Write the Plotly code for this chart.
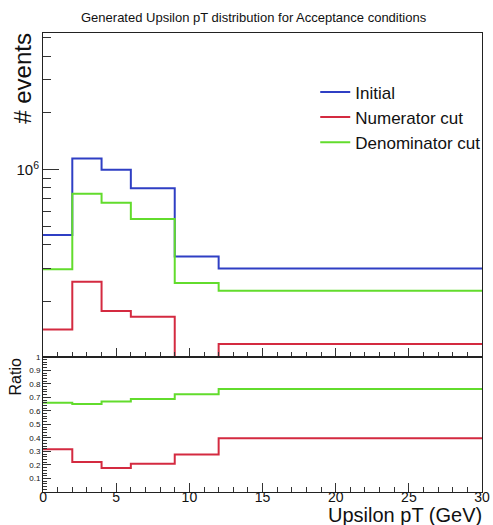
import plotly.graph_objects as go

# ---- data ----
bin_edges = [0, 2, 4, 6, 9, 12, 30]
initial = [4.50e5, 1.146e6, 1.00e6, 7.97e5, 3.47e5, 2.99e5]
numerator = [1.42e5, 2.55e5, 1.78e5, 1.66e5, 9.6e4, 1.19e5]
denominator = [2.97e5, 7.45e5, 6.69e5, 5.48e5, 2.51e5, 2.28e5]
series_names = ["Initial", "Numerator cut", "Denominator cut"]
x_tick_vals = [0, 5, 10, 15, 20, 25, 30]
ratio_tick_vals = [0.1, 0.2, 0.3, 0.4, 0.5, 0.6, 0.7, 0.8, 0.9, 1.0]
ratio_tick_text = ["0.1", "0.2", "0.3", "0.4", "0.5", "0.6", "0.7", "0.8", "0.9", "1"]

ratio_num = [n / i for n, i in zip(numerator, initial)]
ratio_den = [d / i for d, i in zip(denominator, initial)]

W, H = 493, 525
FONT = "Liberation Sans, Arial, Helvetica, sans-serif"
colors = {"Initial": "#2f3fc4", "Numerator cut": "#d42a40", "Denominator cut": "#62dc2c"}


def px(xp):
    return xp / W


def py(yp):
    return 1 - yp / H


def step(vals):
    return list(vals) + [vals[-1]]


fig = go.Figure()
for name, vals in zip(series_names, [initial, numerator, denominator]):
    fig.add_trace(go.Scatter(
        x=bin_edges, y=step(vals), mode="lines", line_shape="hv",
        line=dict(color=colors[name], width=2), name=name,
        legendgroup=name, xaxis="x", yaxis="y", showlegend=True,
    ))
for name, vals in [("Denominator cut", ratio_den), ("Numerator cut", ratio_num)]:
    fig.add_trace(go.Scatter(
        x=bin_edges, y=step(vals), mode="lines", line_shape="hv",
        line=dict(color=colors[name], width=2), name=name,
        xaxis="x2", yaxis="y2", showlegend=False,
    ))
# invisible carrier trace for the tick-label axis
fig.add_trace(go.Scatter(x=bin_edges, y=step(ratio_den), mode="lines", opacity=0,
                         line=dict(width=0), xaxis="x3", yaxis="y2",
                         showlegend=False, hoverinfo="skip"))

xdom = [px(40), px(490)]
top_dom = [py(355.5), py(29)]
bot_dom = [py(491.7), py(355.5)]
axcommon = dict(showline=True, linecolor="#222", linewidth=1, mirror=True,
                showgrid=False, zeroline=False, ticks="inside", tickcolor="#333")

fig.update_layout(
    width=W, height=H, autosize=False,
    margin=dict(l=0, r=0, t=0, b=0),
    paper_bgcolor="white", plot_bgcolor="white",
    font=dict(family=FONT, color="#111"),
    xaxis=dict(domain=xdom, range=[0, 30], anchor="y", showticklabels=False,
               tickvals=x_tick_vals, ticklen=9,
               minor=dict(dtick=1, ticks="inside", ticklen=5, tickcolor="#333"),
               **axcommon),
    yaxis=dict(domain=top_dom, type="log", range=[5.008, 6.726], anchor="x",
               tickvals=[1e6], ticktext=["10<sup>6</sup>"], ticklen=16,
               tickfont=dict(size=15, family=FONT),
               minor=dict(tickmode="array",
                          tickvals=[2e5, 3e5, 4e5, 5e5, 6e5, 7e5, 8e5, 9e5, 2e6, 3e6, 4e6, 5e6],
                          ticks="inside", ticklen=8, tickcolor="#333"),
               **axcommon),
    xaxis2=dict(domain=xdom, range=[0, 30], anchor="y2", showticklabels=False,
                tickvals=x_tick_vals, ticklen=9,
                minor=dict(dtick=1, ticks="inside", ticklen=5, tickcolor="#333"),
                **axcommon),
    xaxis3=dict(domain=xdom, range=[0, 30], anchor="free", overlaying="x2",
                position=py(487), showline=False, showgrid=False, zeroline=False,
                ticks="", tickvals=x_tick_vals, ticklabeloverflow="allow",
                tickfont=dict(size=14, family=FONT)),
    yaxis2=dict(domain=bot_dom, range=[0, 1], anchor="x2",
                tickvals=ratio_tick_vals, ticktext=ratio_tick_text, ticklen=8,
                tickfont=dict(size=8, family=FONT),
                minor=dict(dtick=0.02, ticks="inside", ticklen=4, tickcolor="#333"),
                **axcommon),
    legend=dict(x=px(319), y=py(71), xanchor="left", yanchor="top",
                bgcolor="rgba(0,0,0,0)", font=dict(size=17, family=FONT),
                tracegroupgap=0, itemwidth=30),
    showlegend=True,
)

fig.add_annotation(text="Generated Upsilon pT distribution for Acceptance conditions",
                   x=px(256), y=py(14), xref="paper", yref="paper", showarrow=False,
                   font=dict(size=13, family=FONT), xanchor="center", yanchor="middle")
fig.add_annotation(text="# events", x=px(19), y=py(27), xref="paper", yref="paper",
                   showarrow=False, textangle=-90, xanchor="center", yanchor="top",
                   font=dict(size=24, family=FONT))
fig.add_annotation(text="Ratio", x=px(12), y=py(355), xref="paper", yref="paper",
                   showarrow=False, textangle=-90, xanchor="center", yanchor="top",
                   font=dict(size=16, family=FONT))
fig.add_annotation(text="Upsilon pT (GeV)", x=px(492), y=py(515), xref="paper", yref="paper",
                   showarrow=False, xanchor="right", yanchor="middle",
                   font=dict(size=20, family=FONT))

fig.write_html("out.html")
